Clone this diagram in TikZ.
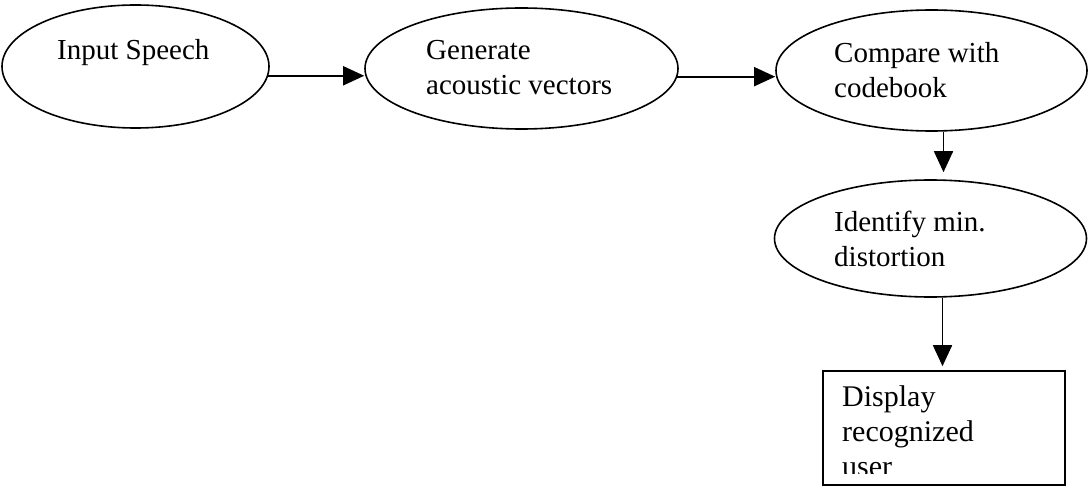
\documentclass[tikz,border=0pt]{standalone}
\usepackage{fontspec}
\setmainfont{Liberation Serif}
\usetikzlibrary{shapes.geometric,arrows.meta}
\begin{document}
\begin{tikzpicture}[x=1pt,y=-1pt,
  oval/.style={draw,ellipse,line width=1.6pt,inner sep=0pt},
  lbl/.style={anchor=base west,inner sep=0pt,font=\fontsize{29}{34}\selectfont},
  blbl/.style={anchor=base west,inner sep=0pt,font=\fontsize{30}{35}\selectfont},
  arr/.style={line width=1.7pt,-{Triangle[length=21pt,width=19pt]}}]
\useasboundingbox[fill=white] (0,0) rectangle (1089,489);
% ellipses
\node[oval,minimum width=267pt,minimum height=123pt] (e1) at (135.5,66.5) {};
\node[oval,minimum width=313pt,minimum height=121pt] (e2) at (521.5,68.5) {};
\node[oval,minimum width=311pt,minimum height=121pt] (e3) at (931.5,70.5) {};
\node[oval,minimum width=312pt,minimum height=117pt] (e4) at (930.5,238.5) {};
\node[draw,line width=1.6pt,minimum width=242pt,minimum height=114pt,inner sep=0pt] (r) at (944,428) {};
% texts
\node[lbl] (t1) at (57,59.5) {Input Speech};
\node[lbl] (t2a) at (426,60) {Generate};
\node[lbl] (t2b) at (426,94.5) {acoustic vectors};
\node[lbl] (t3a) at (834,62.3) {Compare with};
\node[lbl] (t3b) at (834,97.3) {codebook};
\node[lbl] (t4a) at (834,231) {Identify min.};
\node[lbl] (t4b) at (834,266) {distortion};
\begin{scope}
\clip (824,372) rectangle (1064,473);
\node[blbl] (t5a) at (842,406.7) {Display};
\node[blbl] (t5b) at (842,441.7) {recognized};
\node[blbl] (t5c) at (842,476.7) {user};
\end{scope}
% connectors
\draw[arr] (e1.-4.3) -- (e1.-4.3 -| e2.west);
\draw[arr] (e2.-3.3) -- (e2.-3.3 -| e3.west);
\draw[arr] ([xshift=12pt]e3.south) -- ([xshift=12pt,yshift=7pt]e3.south |- e4.north);
\draw[arr] ([xshift=12pt]e4.south) -- ([xshift=12pt,yshift=4pt]e4.south |- r.north);
\end{tikzpicture}
\end{document}
